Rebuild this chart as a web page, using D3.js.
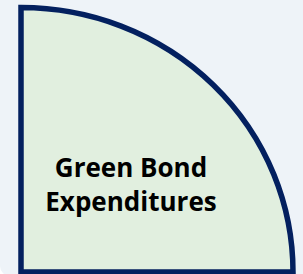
<!DOCTYPE html>
<html>
<head>
<meta charset="utf-8">
<script src="https://cdn.jsdelivr.net/npm/d3@7"></script>
<style>
  html, body { margin: 0; padding: 0; background: #ffffff; }
  svg { display: block; }
</style>
</head>
<body>
<div id="chart"></div>
<script>
// data
var sliceNames = ["Green Bond Expenditures"];
var sliceValues = [1];
var labelLines = ["Green Bond", "Expenditures"];

var svgWidth = 303;
var svgHeight = 274;

var svg = d3.select("#chart")
  .append("svg")
  .attr("width", svgWidth)
  .attr("height", svgHeight);

// panel background
svg.append("rect")
  .attr("x", 0)
  .attr("y", -20)
  .attr("width", svgWidth + 20)
  .attr("height", svgHeight + 22)
  .attr("rx", 10)
  .attr("fill", "#eef3f8");

// the slice is a quarter pie, center at bottom-left, slightly wider than tall
var cx = 21, cy = 272;
var ry = 264.5, rx = 272;

var pie = d3.pie()
  .sort(null)
  .startAngle(0)
  .endAngle(Math.PI / 2)
  .value(d => d);

var arc = d3.arc()
  .innerRadius(0)
  .outerRadius(ry);

var pieGroup = svg.append("g")
  .attr("transform", `translate(${cx}, ${cy}) scale(${rx / ry}, 1)`);

pieGroup.selectAll("path")
  .data(pie(sliceValues))
  .enter()
  .append("path")
  .attr("d", arc)
  .attr("fill", "#e1efdf")
  .attr("stroke", "#03205f")
  .attr("stroke-width", 5.5)
  .attr("vector-effect", "non-scaling-stroke");

// label
svg.append("text")
  .attr("x", 131)
  .attr("y", 177)
  .attr("text-anchor", "middle")
  .attr("font-family", "'Open Sans', sans-serif")
  .attr("font-weight", "bold")
  .attr("font-size", "26px")
  .attr("fill", "#000000")
  .selectAll("tspan")
  .data(labelLines)
  .enter()
  .append("tspan")
  .attr("x", 131)
  .attr("dy", (d, i) => i === 0 ? 0 : 34)
  .text(d => d);
</script>
</body>
</html>
